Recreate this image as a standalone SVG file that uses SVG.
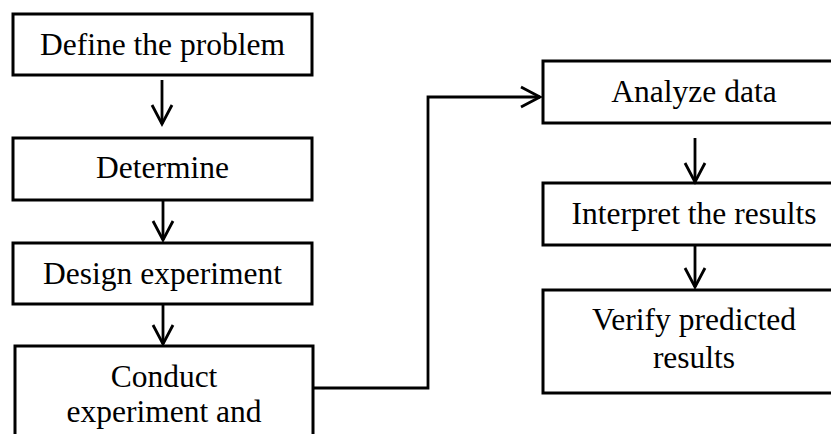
<svg xmlns="http://www.w3.org/2000/svg" width="831" height="434" viewBox="0 0 831 434">
<defs>
<style>
.box{fill:#fff;stroke:#000;stroke-width:3}
.t{font-family:"Liberation Serif","Times New Roman",serif;font-size:31.5px;fill:#000;text-anchor:middle}
.c{fill:none;stroke:#000;stroke-width:2.8}
</style>
<marker id="ah" markerUnits="userSpaceOnUse" markerWidth="30" markerHeight="30" viewBox="-25 -15 30 30" refX="0" refY="0" orient="auto">
<path d="M-19,-10 L0,0 L-19,10" fill="none" stroke="#000" stroke-width="2.8"/>
</marker>
</defs>
<rect width="831" height="434" fill="#fff"/>
<g id="n1"><rect class="box" x="13" y="14" width="299" height="61"/><text class="t" x="162.5" y="55">Define the problem</text></g>
<g id="n2"><rect class="box" x="13" y="138" width="299" height="62"/><text class="t" x="162.5" y="178">Determine</text></g>
<g id="n3"><rect class="box" x="13" y="243" width="299" height="61"/><text class="t" x="162.5" y="284">Design experiment</text></g>
<g id="n4"><rect class="box" x="15" y="346" width="298" height="110"/><text class="t" x="164" y="387">Conduct</text><text class="t" x="164" y="422">experiment and</text></g>
<g id="n5"><rect class="box" x="543" y="61" width="303" height="62"/><text class="t" x="694" y="102">Analyze data</text></g>
<g id="n6"><rect class="box" x="543" y="183" width="303" height="62"/><text class="t" x="694" y="224">Interpret the results</text></g>
<g id="n7"><rect class="box" x="543" y="290" width="303" height="103"/><text class="t" x="694" y="330">Verify predicted</text><text class="t" x="694" y="368">results</text></g>
<g id="connectors">
<path class="c" d="M162,80 V124" marker-end="url(#ah)"/>
<path class="c" d="M163,200 V240" marker-end="url(#ah)"/>
<path class="c" d="M163,305 V344" marker-end="url(#ah)"/>
<path class="c" d="M313,388 H428 V97 H540" marker-end="url(#ah)"/>
<path class="c" d="M695,138 V182" marker-end="url(#ah)"/>
<path class="c" d="M695,245 V287" marker-end="url(#ah)"/>
</g>
</svg>
